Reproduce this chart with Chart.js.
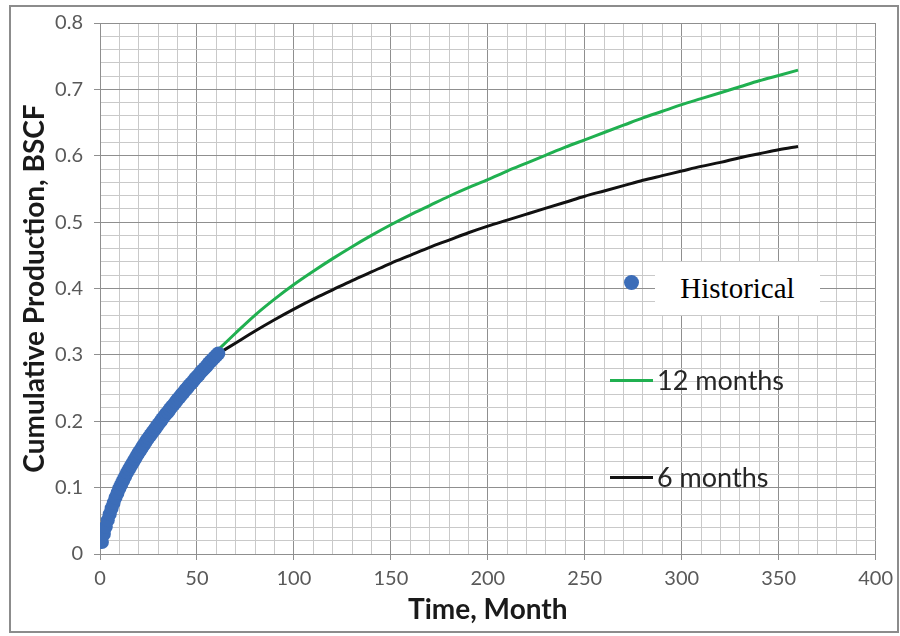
<!DOCTYPE html>
<html>
<head>
<meta charset="utf-8">
<script src="https://cdn.jsdelivr.net/npm/chart.js@4/dist/chart.umd.min.js"></script>
<style>
  html, body { margin: 0; padding: 0; background: #fff; }
  #wrap { position: relative; width: 900px; height: 636px; overflow: hidden; }
  #c { position: absolute; left: 0; top: 0; }
  #frame { position: absolute; left: 9px; top: 5px; width: 886px; height: 624px; border: 2px solid #8c8c8c; }
  .leg { position: absolute; white-space: nowrap; }
  #histBox { left: 655px; top: 262px; width: 165px; height: 53px; background: #fff; font-family: "Liberation Serif", "Times New Roman", serif; font-size: 29px; color: #000; line-height: 53px; text-align: center; }
  #histDot { left: 624px; top: 275px; width: 15px; height: 15px; border-radius: 50%; background: #3c6db8; }
  .legLine { height: 3px; width: 43px; left: 610px; }
  .legText { left: 657px; font-family: Lato, sans-serif; font-size: 27px; color: #262626; line-height: 30px; }
</style>
</head>
<body>
<div id="wrap">
  <canvas id="c" width="900" height="636"></canvas>
  <div id="frame"></div>
  <div class="leg" id="histDot"></div>
  <div class="leg" id="histBox">Historical</div>
  <div class="leg legLine" style="top:379px; background:#20b050;"></div>
  <div class="leg legText" style="top:365px;">12 months</div>
  <div class="leg legLine" style="top:476px; background:#111;"></div>
  <div class="leg legText" style="top:462px;">6 months</div>
</div>
<script>
// ---- Data ----
const histMonths = [1,2,3,4,5,6,7,8,9,10,11,12,13,14,15,16,17,18,19,20,21,22,23,24,25,26,27,28,29,30,
  31,32,33,34,35,36,37,38,39,40,41,42,43,44,45,46,47,48,49,50,51,52,53,54,55,56,57,58,59,60,61];
const histCum = [0.018,0.030,0.041,0.051,0.060,0.069,0.077,0.085,0.092,0.099,0.105,0.111,0.117,0.123,0.128,
  0.133,0.138,0.143,0.148,0.153,0.157,0.162,0.166,0.171,0.175,0.179,0.183,0.187,0.191,0.195,
  0.199,0.203,0.207,0.211,0.214,0.218,0.222,0.225,0.229,0.233,0.236,0.240,0.243,0.247,0.250,
  0.254,0.257,0.260,0.264,0.267,0.270,0.274,0.277,0.280,0.283,0.287,0.290,0.293,0.296,0.299,0.302];

const fcMonths = [60,70,80,90,100,110,120,130,140,150,160,170,180,190,200,210,220,230,240,250,
  260,270,280,290,300,310,320,330,340,350,360];
const cum12 = [0.305,0.333,0.360,0.384,0.406,0.426,0.445,0.463,0.480,0.496,0.511,0.525,0.539,0.552,0.564,
  0.577,0.589,0.601,0.613,0.624,0.635,0.646,0.657,0.667,0.677,0.686,0.695,0.704,0.713,0.721,0.729];
const cum6 = [0.300,0.318,0.336,0.353,0.369,0.384,0.398,0.412,0.425,0.438,0.450,0.462,0.473,0.484,0.494,
  0.503,0.512,0.521,0.530,0.539,0.547,0.555,0.563,0.570,0.577,0.584,0.590,0.597,0.603,0.609,0.614];

const xMin = 0, xMax = 400, xStep = 10, xLabelEvery = 50;
const yMin = 0, yMax = 0.8, yStep = 0.02, yLabelEvery = 0.1;
const seriesNames = ['Historical', '12 months', '6 months'];
const xTitle = 'Time, Month';
const yTitle = 'Cumulative Production, BSCF';

// ---- Build ----
const toPts = (xs, ys) => xs.map((x, i) => ({x: x, y: ys[i]}));
const MAJOR = '#8f8f8f', MINOR = '#c9c9c9';
const isMajorX = v => Math.round(v) % xLabelEvery === 0;
const isMajorY = v => Math.round(v * 100) % Math.round(yLabelEvery * 100) === 0;

Chart.defaults.font.family = 'Lato, sans-serif';

new Chart(document.getElementById('c'), {
  type: 'scatter',
  data: {
    datasets: [
      { label: seriesNames[0], data: toPts(histMonths, histCum), backgroundColor: '#3c6db8',
        borderWidth: 0, pointRadius: 7, pointHoverRadius: 7, order: 0 },
      { label: seriesNames[1], data: toPts(fcMonths, cum12), showLine: true, borderColor: '#20b050',
        borderWidth: 3, pointRadius: 0, cubicInterpolationMode: 'monotone', order: 1 },
      { label: seriesNames[2], data: toPts(fcMonths, cum6), showLine: true, borderColor: '#111111',
        borderWidth: 3, pointRadius: 0, cubicInterpolationMode: 'monotone', order: 2 }
    ]
  },
  options: {
    responsive: false,
    animation: false,
    devicePixelRatio: 1,
    layout: { padding: { left: 10, right: 20, top: 18, bottom: 8 } },
    plugins: { legend: { display: false }, tooltip: { enabled: false } },
    scales: {
      x: {
        type: 'linear', min: xMin, max: xMax,
        afterFit: s => { s.height = 74; },
        ticks: { stepSize: xStep, autoSkip: false, maxRotation: 0, padding: 7,
          color: '#595959', font: { size: 20 },
          callback: v => isMajorX(v) ? String(Math.round(v)) : '' },
        grid: { color: c => (c.tick && isMajorX(c.tick.value)) ? MAJOR : MINOR,
          tickColor: c => (c.tick && isMajorX(c.tick.value)) ? MAJOR : 'rgba(0,0,0,0)',
          tickLength: 6, lineWidth: 1 },
        border: { color: MAJOR, width: 1 },
        title: { display: true, text: xTitle, color: '#1a1a1a',
          font: { size: 28, weight: 'bold' }, padding: { top: 0, bottom: 1 } }
      },
      y: {
        type: 'linear', min: yMin, max: yMax,
        afterFit: s => { s.width = 90; },
        ticks: { stepSize: yStep, autoSkip: false, padding: 11, color: '#595959', font: { size: 20 },
          callback: v => isMajorY(v) ? String(Math.round(v * 10) / 10) : '' },
        grid: { color: c => (c.tick && isMajorY(c.tick.value)) ? MAJOR : MINOR,
          tickColor: c => (c.tick && isMajorY(c.tick.value)) ? MAJOR : 'rgba(0,0,0,0)',
          tickLength: 6, lineWidth: 1 },
        border: { color: MAJOR, width: 1 },
        title: { display: true, text: yTitle, color: '#1a1a1a',
          font: { size: 28, weight: 'bold' }, padding: { top: 8, bottom: 0 } }
      }
    }
  }
});
</script>
</body>
</html>
